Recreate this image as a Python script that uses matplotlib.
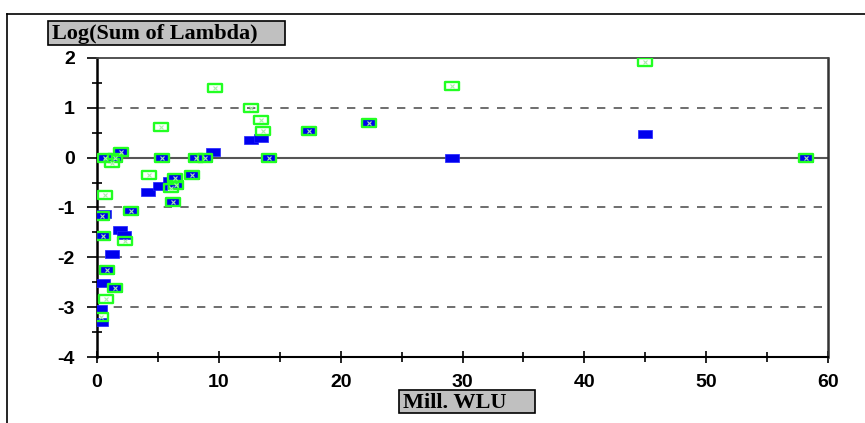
import matplotlib
matplotlib.use("Agg")
import matplotlib.pyplot as plt
from matplotlib.path import Path
from matplotlib.lines import Line2D
from matplotlib.patches import Rectangle
import numpy as np

plt.rcParams['axes.unicode_minus'] = False

# blue series (filled rectangles)
blue_x = [29.1, 45.0, 12.6, 13.5, 9.55, 4.2, 5.2, 6.0, 0.55, 1.89, 2.24, 1.2, 0.52, 0.25, 0.33,
          58.2, 22.3, 17.4, 14.15, 5.36, 8.1, 8.87, 7.8, 6.4, 6.5, 6.27, 0.66, 1.48, 1.97, 2.76,
          0.52, 0.8, 1.48, 0.44]
blue_y = [0.0, 0.48, 0.36, 0.40, 0.12, -0.69, -0.56, -0.47, -1.13, -1.45, -1.55, -1.93, -2.52, -3.04, -3.29,
          0.0, 0.70, 0.54, 0.0, 0.0, 0.0, 0.0, -0.35, -0.41, -0.54, -0.88, 0.0, 0.0, 0.11, -1.07,
          -1.58, -2.25, -2.62, -1.18]

# green series (hollow rectangles)
green_x = [45.0, 29.1, 12.6, 13.5, 13.6, 9.7, 5.25, 4.3, 6.1, 1.2, 0.66, 2.3, 0.71, 0.3,
           58.2, 22.3, 17.4, 14.15, 5.36, 8.1, 8.87, 7.8, 6.4, 6.5, 6.27, 0.66, 1.48, 1.97, 2.76,
           0.52, 0.8, 1.48, 0.44]
green_y = [1.92, 1.43, 1.0, 0.76, 0.54, 1.39, 0.61, -0.35, -0.61, -0.11, -0.75, -1.67, -2.84, -3.19,
           0.0, 0.70, 0.54, 0.0, 0.0, 0.0, 0.0, -0.35, -0.41, -0.54, -0.88, 0.0, 0.0, 0.11, -1.07,
           -1.58, -2.25, -2.62, -1.18]

# wide rectangle marker
rect = Path([(-1, -0.58), (1, -0.58), (1, 0.58), (-1, 0.58), (-1, -0.58)],
            [Path.MOVETO, Path.LINETO, Path.LINETO, Path.LINETO, Path.CLOSEPOLY])

fig = plt.figure(figsize=(8.65, 4.23), dpi=100)
ax = fig.add_axes([97/865, 66/423, 731/865, 299/423])

ax.set_xlim(0, 60)
ax.set_ylim(-4, 2)

for yv in [1, -1, -2, -3]:
    ax.axhline(yv, color='#555555', lw=1.2, ls=(0, (5, 5)), zorder=1)
ax.axhline(0, color='#555555', lw=1.5, zorder=1)

ax.plot(blue_x, blue_y, ls='none', marker=rect, markersize=9.4,
        markerfacecolor='#0000ee', markeredgecolor='#2222ff', markeredgewidth=0.5, zorder=3)
ax.plot(green_x, green_y, ls='none', marker=rect, markersize=10.2,
        markerfacecolor='none', markeredgecolor='#22ff22', markeredgewidth=1.7, zorder=4)
ax.plot(green_x, green_y, ls='none', marker='x', markersize=3.5,
        markeredgecolor='#aaeeaa', markeredgewidth=0.8, zorder=5)

ax.set_xticks(np.arange(0, 61, 10))
ax.set_xticks(np.arange(5, 60, 10), minor=True)
ax.set_yticks(np.arange(-4, 3, 1))
ax.set_yticks(np.arange(-3.5, 2, 1), minor=True)
ax.set_xticklabels([str(v) for v in range(0, 61, 10)])
ax.set_yticklabels([str(v) for v in range(-4, 3)])

ax.tick_params(axis='x', which='major', direction='inout', length=9, width=1.2, pad=8)
ax.tick_params(axis='x', which='minor', direction='inout', length=7, width=1.2)
ax.tick_params(axis='y', which='major', direction='out', length=7, width=1.2, pad=9)
ax.tick_params(axis='y', which='minor', direction='inout', length=7, width=1.2)
for lab in ax.get_xticklabels() + ax.get_yticklabels():
    lab.set_fontfamily('Liberation Sans')
    lab.set_fontweight('bold')
    lab.set_fontsize(14)

ax.spines['left'].set_linewidth(1.8)
ax.spines['bottom'].set_linewidth(1.5)
ax.spines['top'].set_color('#444444')
ax.spines['right'].set_color('#333333')
ax.spines['top'].set_linewidth(1.3)
ax.spines['right'].set_linewidth(1.8)

# axis titles in grey boxes
def label_box(x0, y0, x1, y1, text):
    fig.add_artist(Rectangle((x0/865, 1 - y1/423), (x1 - x0)/865, (y1 - y0)/423,
                             transform=fig.transFigure, facecolor='#c0c0c0',
                             edgecolor='black', linewidth=1.2))
    fig.text((x0 + 4)/865, 1 - ((y0 + y1)/2 + 1)/423, text, fontfamily='Liberation Serif',
             fontweight='bold', fontsize=16, va='center', ha='left')

label_box(48, 21, 285, 45, 'Log(Sum of Lambda)')
label_box(399, 390, 535, 413, 'Mill. WLU')

# outer frame lines
fig.add_artist(Line2D([7/865, 1], [1 - 14/423, 1 - 14/423], color='black', lw=1.2))
fig.add_artist(Line2D([7/865, 7/865], [0, 1 - 14/423], color='black', lw=1.2))

fig.savefig('out.png', dpi=100)
